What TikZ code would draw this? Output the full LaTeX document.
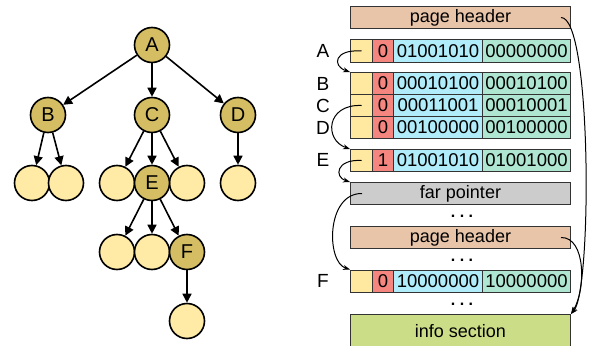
\documentclass[tikz,border=0pt]{standalone}
\usepackage{fontspec}
\setmainfont{Liberation Sans}
\usetikzlibrary{arrows.meta,calc}
\definecolor{gold}{HTML}{D4BD62}
\definecolor{leafc}{HTML}{FFEBA6}
\definecolor{cyell}{HTML}{FFE9A0}
\definecolor{cred}{HTML}{F4857F}
\definecolor{cblue}{HTML}{B0ECFA}
\definecolor{cgreen}{HTML}{AEE6D2}
\definecolor{chead}{HTML}{E8C4A8}
\definecolor{cfar}{HTML}{CCCCCC}
\definecolor{cinfo}{HTML}{CCDD88}
\tikzset{
  tnode/.style={circle,draw=black,line width=1.6pt,fill=gold,minimum size=35pt,inner sep=0pt,font=\fontsize{20}{20}\selectfont},
  tleaf/.style={tnode,fill=leafc},
  tarrow/.style={line width=1.6pt,-{Triangle[length=9pt,width=9pt]}},
  cellbox/.style={draw=black!80,line width=1pt,anchor=north west,minimum height=22pt,inner sep=0pt,font=\fontsize{18.5}{18.5}\selectfont},
  wide/.style={cellbox,minimum width=220pt,font=\fontsize{18}{18}\selectfont},
  rlabel/.style={font=\fontsize{19}{19}\selectfont},
  dotsnode/.style={inner sep=0pt,anchor=base,font=\fontsize{16}{16}\selectfont\bfseries},
  carrow/.style={line width=1pt,-{Stealth[length=7pt,width=5pt]}}
}
\newcommand\memrow[5]{%
  \node[cellbox,fill=cyell,minimum width=22pt] (#1-y) at (350,#2) {};
  \node[cellbox,fill=cred,minimum width=21pt] (#1-r) at (372,#2) {#3};
  \node[cellbox,fill=cblue,minimum width=89pt] (#1-b) at (393,#2) {#4};
  \node[cellbox,fill=cgreen,minimum width=88pt] (#1-g) at (482,#2) {#5};
}
\newcommand\threedots{.\hspace{4.5pt}.\hspace{4.5pt}.}
\begin{document}
\begin{tikzpicture}[x=1pt,y=-1pt]
\useasboundingbox[fill=white] (0,0) rectangle (591,345);
% tree
\node[tleaf] (b1) at (32,183) {};
\node[tleaf] (b2) at (66,183) {};
\node[tleaf] (c1) at (117,183) {};
\node[tleaf] (c3) at (187,183) {};
\node[tleaf] (d1) at (238,183) {};
\node[tleaf] (e1) at (117,252) {};
\node[tleaf] (e2) at (152,252) {};
\node[tleaf] (f1) at (187,321) {};
\node[tnode] (A) at (152,45) {A};
\node[tnode] (B) at (48,115) {B};
\node[tnode] (C) at (152,115) {C};
\node[tnode] (D) at (238,115) {D};
\node[tnode] (E) at (152,183) {E};
\node[tnode] (F) at (187,252) {F};
\draw[tarrow] (A) -- (B);
\draw[tarrow] (A) -- (C);
\draw[tarrow] (A) -- (D);
\draw[tarrow] (B) -- (b1);
\draw[tarrow] (B) -- (b2);
\draw[tarrow] (C) -- (c1);
\draw[tarrow] (C) -- (E);
\draw[tarrow] (C) -- (c3);
\draw[tarrow] (D) -- (d1);
\draw[tarrow] (E) -- (e1);
\draw[tarrow] (E) -- (e2);
\draw[tarrow] (E) -- (F);
\draw[tarrow] (F) -- (f1);
% memory layout
\node[wide,fill=chead] (ph1) at (350,6) {page header};
\memrow{rA}{39.5}{0}{01001010}{00000000}
\memrow{rB}{72}{0}{00010100}{00010100}
\memrow{rC}{94}{0}{00011001}{00010001}
\memrow{rD}{116}{0}{00100000}{00100000}
\memrow{rE}{149}{1}{01001010}{01001000}
\node[wide,fill=cfar] (far) at (350,182) {far pointer};
\node[dotsnode] (dots1) at (462,217) {\threedots};
\node[wide,fill=chead] (ph2) at (350,226) {page header};
\node[dotsnode] (dots2) at (462,261) {\threedots};
\memrow{rF}{269.5}{0}{10000000}{10000000}
\node[dotsnode] (dots3) at (462,305) {\threedots};
\node[wide,fill=cinfo,minimum height=34pt] (info) at (350,314) {info section};
% labels
\node[rlabel] (lA) at (323,51) {A};
\node[rlabel] (lB) at (323,84) {B};
\node[rlabel] (lC) at (323,106) {C};
\node[rlabel] (lD) at (323,128) {D};
\node[rlabel] (lE) at (323,160) {E};
\node[rlabel] (lF) at (323,281) {F};
% pointer arrows
\draw[carrow] (rA-y.center) .. controls (334,49) and (332,66) .. (rB-y.north west);
\draw[carrow] (rC-y.center) .. controls (326,104) and (324,140) .. (rE-y.north west);
\draw[carrow] (rE-y.center) .. controls (336,159) and (334,177) .. (far.north west);
\draw[carrow] ($(far.west)+(12,0)$) .. controls (326,193) and (326,262) .. (rF-y.north west);
\draw[carrow] ($(ph1.east)+(-10,0)$) .. controls (592,17) and (592,290) .. (info.north east);
\draw[carrow] ($(ph2.east)+(-10,0)$) .. controls (586,237) and (586,290) .. (info.north east);
\end{tikzpicture}
\end{document}
